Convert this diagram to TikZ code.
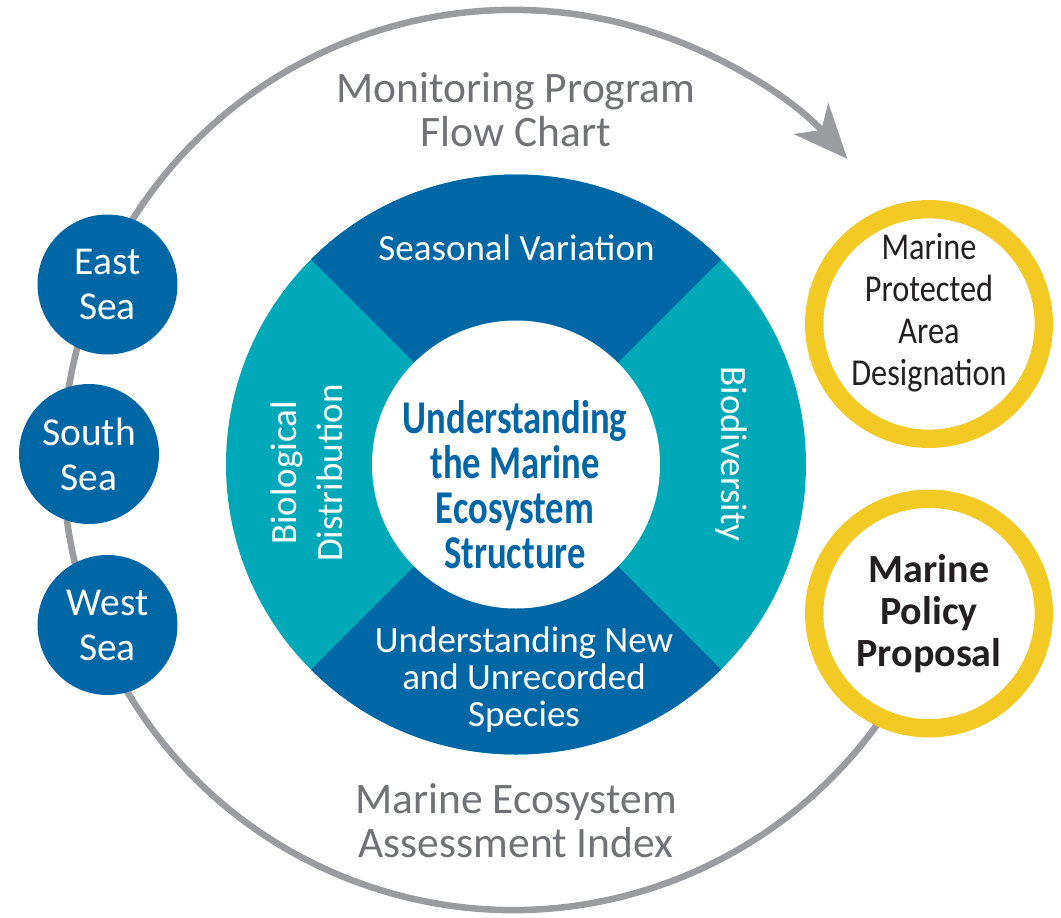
\documentclass[tikz,border=0pt]{standalone}
\usepackage{fontspec}
\setmainfont{Carlito}
\newfontfamily\condfont{Carlito}[FakeStretch=0.85]
\newfontfamily\narrowfont{Carlito}[FakeStretch=0.78]
\usetikzlibrary{arrows.meta,calc}
\definecolor{seablue}{HTML}{0067A6}
\definecolor{seateal}{HTML}{00A9B7}
\definecolor{ringyellow}{HTML}{F2CA23}
\definecolor{arcgrey}{HTML}{9B9CA0}
\definecolor{textgrey}{HTML}{717276}
\definecolor{inkblack}{HTML}{231F20}
\tikzset{
  seanode/.style={circle, fill=seablue, text=white, minimum size=140pt, inner sep=0pt, align=center, font=\fontsize{39.5}{45}\selectfont},
  goalring/.style={circle, draw=ringyellow, line width=18.3pt, fill=white, minimum size=229.6pt, inner sep=0pt, align=center},
  ringtext/.style={text=white, inner sep=0pt, align=center, font=\fontsize{37}{37}\selectfont},
  greytitle/.style={text=textgrey, inner sep=0pt, align=center, font=\fontsize{43.5}{44}\selectfont},
  cyclearc/.style={draw=arcgrey, line width=6.5pt, -{Stealth[length=54pt,width=46pt,inset=15pt]}},
}
\begin{document}
\begin{tikzpicture}[x=1pt,y=1pt]
\fill[white] (0,0) rectangle (1061,-918);
\useasboundingbox (0,0) rectangle (1061,-918);
\coordinate (C) at (513,-460);
\coordinate (R) at (516,-464.5);
\coordinate (arcstart) at ($(C)+(-18:450pt)$);
\draw[cyclearc] (arcstart) arc[start angle=-18, end angle=-318, radius=450pt];
% ring
\fill[seateal] (R) circle[radius=290pt];
\fill[seablue] (R) -- ($(R)+(45:290pt)$) arc[start angle=45,end angle=135,radius=290pt] -- cycle;
\fill[seablue] (R) -- ($(R)+(225:290pt)$) arc[start angle=225,end angle=315,radius=290pt] -- cycle;
\fill[white] (R) circle[radius=144pt];
% seas
\node[seanode] (east) at (107.5,-284.5) {East\\Sea};
\node[seanode] (south) at (89,-454) {South\\Sea};
\node[seanode] (west) at (107.5,-625) {West\\Sea};
% goals
\node[goalring] (mpa) at (929,-324) {};
\node[text=inkblack, inner sep=0pt, align=center, font=\condfont\fontsize{38}{42}\selectfont] (mpatext) at (929,-313) {Marine\\Protected\\Area\\Designation};
\node[goalring, text=inkblack, font=\bfseries\fontsize{40}{42}\selectfont] (mpp) at (929,-613.5) {Marine\\Policy\\Proposal};
% ring texts
\node[ringtext, anchor=base] (season) at (516.5,-260) {Seasonal Variation};
\node[ringtext] (species) at (524,-680) {Understanding New\\and Unrecorded\\Species};
\node[ringtext, rotate=90, font=\fontsize{37}{46}\selectfont] (biodist) at (306.5,-473) {Biological\\Distribution};
\node[ringtext, rotate=-90] (biodiv) at (731.5,-454) {Biodiversity};
\node[text=seablue, inner sep=0pt, align=center, font=\narrowfont\bfseries\fontsize{47}{45}\selectfont] (core) at (515,-485) {Understanding\\the Marine\\Ecosystem\\Structure};
% titles
\node[greytitle] (flowtitle) at (516,-109.5) {Monitoring Program\\Flow Chart};
\node[greytitle] (indextitle) at (516,-821) {Marine Ecosystem\\Assessment Index};
\end{tikzpicture}
\end{document}
